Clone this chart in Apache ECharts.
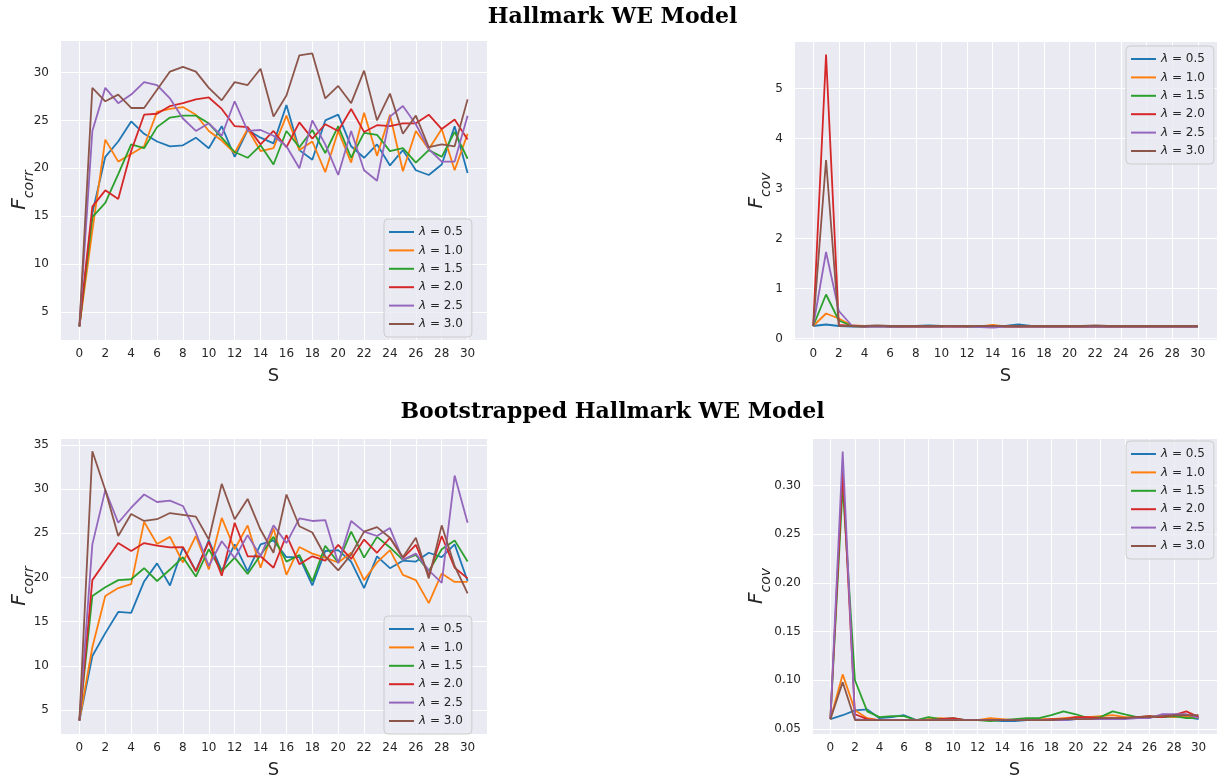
<!DOCTYPE html>
<html><head><meta charset="utf-8">
<script src="https://cdn.jsdelivr.net/npm/echarts@6/dist/echarts.min.js"></script>
<style>html,body{margin:0;padding:0;background:#fff}#c{width:1225px;height:780px}</style>
</head><body><div id="c"></div>
<script>
// ---------- data ----------
const S = [0,1,2,3,4,5,6,7,8,9,10,11,12,13,14,15,16,17,18,19,20,21,22,23,24,25,26,27,28,29,30];
const lambdas = ['0.5','1.0','1.5','2.0','2.5','3.0'];
const titles = ['Hallmark WE Model', 'Bootstrapped Hallmark WE Model'];
const xTitle = 'S';

// Hallmark WE Model, F_corr
const hCorr05 = [3.5,15.3,21.2,22.8,24.9,23.6,22.8,22.3,22.4,23.2,22.1,24.4,21.2,24.0,23.2,22.6,26.6,21.9,20.9,25.0,25.6,22.3,21.1,22.5,20.3,21.9,19.8,19.3,20.4,24.4,19.5];
const hCorr10 = [3.5,13.5,23.0,20.7,21.5,22.3,25.9,26.2,26.4,25.6,23.9,22.9,21.6,24.1,21.8,22.1,25.5,21.9,22.8,19.6,23.9,20.6,25.8,21.3,25.6,19.7,23.9,22.0,24.1,19.8,23.6];
const hCorr15 = [3.5,14.9,16.4,19.4,22.5,22.1,24.3,25.3,25.5,25.5,24.7,23.2,21.7,21.1,22.4,20.4,23.9,22.2,24.0,21.6,24.4,21.1,23.7,23.5,21.8,22.1,20.6,21.9,21.2,23.8,21.0];
const hCorr20 = [3.5,16.0,17.7,16.8,21.8,25.6,25.7,26.5,26.8,27.2,27.4,26.2,24.4,24.3,22.5,23.9,22.2,24.8,23.1,24.6,23.9,26.2,23.8,24.5,24.4,24.7,24.7,25.6,24.1,25.1,23.0];
const hCorr25 = [3.5,23.9,28.4,26.8,27.7,29.0,28.7,27.3,25.2,23.9,24.7,23.4,27.0,23.9,24.0,23.4,22.3,20.0,25.0,22.5,19.3,23.9,19.8,18.7,25.4,26.5,24.6,22.0,20.7,20.7,25.5];
const hCorr30 = [3.5,28.4,27.0,27.7,26.3,26.3,28.2,30.1,30.6,30.1,28.4,27.1,29.0,28.7,30.4,25.4,27.6,31.8,32.0,27.3,28.6,26.8,30.2,25.0,27.8,23.6,25.5,22.2,22.5,22.3,27.2];

// Hallmark WE Model, F_cov
const hCov05 = [0.25,0.28,0.25,0.24,0.24,0.25,0.24,0.24,0.25,0.26,0.25,0.25,0.24,0.24,0.25,0.25,0.28,0.25,0.24,0.24,0.24,0.24,0.25,0.24,0.24,0.24,0.24,0.24,0.24,0.24,0.24];
const hCov10 = [0.25,0.50,0.40,0.26,0.25,0.25,0.25,0.24,0.24,0.24,0.25,0.24,0.25,0.24,0.27,0.24,0.24,0.24,0.24,0.24,0.24,0.24,0.25,0.24,0.24,0.24,0.24,0.24,0.24,0.24,0.25];
const hCov15 = [0.25,0.88,0.36,0.25,0.24,0.25,0.24,0.24,0.24,0.24,0.24,0.25,0.24,0.24,0.24,0.24,0.24,0.24,0.24,0.24,0.24,0.24,0.24,0.24,0.24,0.24,0.24,0.24,0.24,0.24,0.24];
const hCov20 = [0.25,5.68,0.27,0.25,0.24,0.25,0.24,0.24,0.24,0.24,0.24,0.24,0.24,0.25,0.25,0.24,0.24,0.24,0.24,0.24,0.24,0.24,0.24,0.24,0.24,0.24,0.24,0.24,0.24,0.24,0.24];
const hCov25 = [0.25,1.73,0.55,0.26,0.24,0.24,0.24,0.24,0.24,0.24,0.24,0.24,0.24,0.23,0.22,0.24,0.24,0.24,0.24,0.24,0.24,0.24,0.24,0.24,0.24,0.24,0.24,0.24,0.24,0.24,0.24];
const hCov30 = [0.25,3.57,0.25,0.25,0.25,0.26,0.25,0.25,0.25,0.25,0.25,0.25,0.25,0.25,0.25,0.25,0.25,0.25,0.25,0.25,0.25,0.25,0.26,0.25,0.25,0.25,0.25,0.25,0.25,0.25,0.25];

// Bootstrapped Hallmark WE Model, F_corr
const bCorr05 = [3.8,11.1,13.7,16.1,16.0,19.55,21.6,19.1,23.4,20.75,24.2,20.75,23.75,20.7,23.75,24.2,22.3,22.3,19.1,23.0,23.1,21.8,18.8,22.4,21.05,21.9,21.8,22.8,22.3,23.75,19.6];
const bCorr10 = [3.8,12.1,17.9,18.8,19.25,26.3,23.8,24.6,21.7,24.7,20.9,26.75,23.2,25.9,21.1,25.55,20.3,23.45,22.7,22.25,21.7,22.8,19.7,21.7,23.1,20.3,19.7,17.1,20.45,19.5,19.5];
const bCorr15 = [3.8,17.9,18.9,19.7,19.8,21.05,19.6,20.9,22.3,20.1,23.2,20.7,22.25,20.4,22.55,24.6,21.8,22.55,19.55,23.6,21.7,25.2,22.25,24.6,23.4,22.0,22.55,20.7,23.2,24.2,21.8];
const bCorr20 = [3.8,19.7,21.8,23.9,23.0,23.9,23.6,23.4,23.45,20.7,24.05,20.2,26.2,22.4,22.4,21.1,24.8,21.5,22.4,21.9,23.7,22.1,24.3,22.8,24.5,22.2,23.7,20.2,24.7,21.1,19.9];
const bCorr25 = [3.8,23.75,29.9,26.2,27.9,29.4,28.55,28.7,28.1,25.1,21.3,24.1,22.2,24.8,22.4,25.9,23.9,26.7,26.4,26.5,21.6,26.4,25.2,24.7,25.6,22.0,22.7,20.8,19.4,31.55,26.2];
const bCorr30 = [3.8,34.3,29.9,24.7,27.2,26.4,26.6,27.3,27.1,26.9,24.3,30.6,26.6,28.9,25.4,22.8,29.4,25.8,25.1,22.4,20.8,22.6,25.2,25.7,24.5,22.3,24.5,19.9,25.9,21.3,18.2];

// Bootstrapped Hallmark WE Model, F_cov
const bCov05 = [0.060,0.064,0.069,0.070,0.061,0.062,0.064,0.059,0.059,0.059,0.060,0.059,0.059,0.059,0.058,0.058,0.059,0.059,0.059,0.059,0.060,0.060,0.060,0.060,0.061,0.062,0.062,0.062,0.063,0.062,0.060];
const bCov10 = [0.060,0.106,0.069,0.061,0.059,0.059,0.059,0.059,0.060,0.061,0.060,0.059,0.059,0.061,0.060,0.059,0.059,0.060,0.060,0.061,0.062,0.062,0.063,0.064,0.062,0.062,0.062,0.063,0.062,0.063,0.061];
const bCov15 = [0.060,0.300,0.100,0.068,0.062,0.063,0.063,0.059,0.062,0.060,0.061,0.059,0.059,0.058,0.059,0.060,0.061,0.061,0.064,0.068,0.065,0.061,0.062,0.068,0.065,0.062,0.063,0.062,0.063,0.061,0.061];
const bCov20 = [0.060,0.315,0.065,0.060,0.059,0.059,0.059,0.059,0.059,0.060,0.061,0.059,0.059,0.059,0.059,0.059,0.059,0.059,0.060,0.060,0.062,0.062,0.061,0.061,0.061,0.062,0.063,0.062,0.064,0.068,0.062];
const bCov25 = [0.060,0.335,0.060,0.059,0.059,0.059,0.059,0.059,0.059,0.059,0.059,0.059,0.059,0.059,0.059,0.059,0.059,0.059,0.059,0.059,0.060,0.060,0.060,0.060,0.060,0.061,0.061,0.065,0.065,0.065,0.061];
const bCov30 = [0.060,0.098,0.059,0.059,0.059,0.059,0.059,0.059,0.059,0.059,0.059,0.059,0.059,0.059,0.059,0.059,0.059,0.059,0.059,0.060,0.060,0.060,0.061,0.061,0.061,0.062,0.062,0.063,0.064,0.064,0.064];

// ---------- assembly ----------
const panels = [
  [hCorr05,hCorr10,hCorr15,hCorr20,hCorr25,hCorr30],
  [hCov05,hCov10,hCov15,hCov20,hCov25,hCov30],
  [bCorr05,bCorr10,bCorr15,bCorr20,bCorr25,bCorr30],
  [bCov05,bCov10,bCov15,bCov20,bCov25,bCov30]
];
const yNames = ['{f|F}{s|corr}','{f|F}{s|cov}','{f|F}{s|corr}','{f|F}{s|cov}'];
const palette = ['#1f77b4','#ff7f0e','#2ca02c','#d62728','#9467bd','#8c564b'];
const names = lambdas.map(l => 'λ = ' + l);

const FONT = 'DejaVu Sans';
const TXT = '#262626';
const grids = [
  {left:60, top:40, width:427, height:300},
  {left:794, top:41, width:423, height:299},
  {left:60, top:438, width:427, height:298},
  {left:812, top:438, width:405, height:298}
];
const yCfg = [
  {min:2.07, max:33.4, iv:5, dec:0, gap:28},
  {min:-0.03, max:5.95, iv:1, dec:0, gap:25},
  {min:2.27, max:35.8, iv:5, dec:0, gap:28},
  {min:0.0447, max:0.349, iv:0.05, dec:2, gap:43}
];
const legendPos = [
  {left:384, top:219},
  {left:1126, top:46},
  {left:384, top:616},
  {left:1126, top:441}
];

const option = {
  animation: false,
  backgroundColor: '#ffffff',
  title: [
    {text: titles[0], left: 'center', top: 1, textStyle: {fontFamily: 'DejaVu Serif', fontWeight: 'bold', fontSize: 22, color: '#000'}},
    {text: titles[1], left: 'center', top: 396, textStyle: {fontFamily: 'DejaVu Serif', fontWeight: 'bold', fontSize: 22, color: '#000'}}
  ],
  grid: grids.map(g => Object.assign({show: true, backgroundColor: '#EAEAF2', borderWidth: 0}, g)),
  xAxis: grids.map((g, i) => ({
    type: 'value', gridIndex: i, min: -1.5, max: 31.5,
    minInterval: 2, maxInterval: 2, splitNumber: 16,
    axisLine: {show: false}, axisTick: {show: false},
    axisLabel: {showMinLabel: false, showMaxLabel: false, fontFamily: FONT, fontSize: 12, color: TXT, margin: 8},
    splitLine: {show: true, lineStyle: {color: '#ffffff', width: 1}},
    name: xTitle, nameLocation: 'middle', nameGap: 27, nameMoveOverlap: false,
    nameTextStyle: {fontFamily: FONT, fontSize: 18, color: TXT}
  })),
  yAxis: grids.map((g, i) => ({
    type: 'value', gridIndex: i, min: yCfg[i].min, max: yCfg[i].max,
    minInterval: yCfg[i].iv, maxInterval: yCfg[i].iv, splitNumber: 6,
    axisLine: {show: false}, axisTick: {show: false},
    axisLabel: {showMinLabel: false, showMaxLabel: false, fontFamily: FONT, fontSize: 12, color: TXT, margin: 11,
      formatter: v => v.toFixed(yCfg[i].dec)},
    splitLine: {show: true, lineStyle: {color: '#ffffff', width: 1}},
    name: yNames[i], nameLocation: 'middle', nameRotate: 90, nameGap: yCfg[i].gap, nameMoveOverlap: false,
    nameTextStyle: {
      rich: {
        f: {fontFamily: FONT, fontStyle: 'italic', fontSize: 20, color: TXT, lineHeight: 22, verticalAlign: 'top'},
        s: {fontFamily: FONT, fontStyle: 'italic', fontSize: 14, color: TXT, lineHeight: 14, padding: [12,0,0,0], verticalAlign: 'top'}
      }
    }
  })),
  legend: legendPos.map(p => ({
    data: names, orient: 'vertical', left: p.left, top: p.top,
    icon: 'rect', itemWidth: 25, itemHeight: 2, itemGap: 4.4,
    padding: [6, 9, 6, 5],
    backgroundColor: 'rgba(234,234,242,0.8)', borderColor: '#cccccc', borderWidth: 1, borderRadius: 4,
    selectedMode: false,
    formatter: n => n.replace('λ', '{i|λ}'),
    textStyle: {fontFamily: FONT, fontSize: 12, color: TXT, lineHeight: 14,
      rich: {i: {fontFamily: FONT, fontStyle: 'italic', fontSize: 12, color: TXT, lineHeight: 14}}}
  })),
  series: []
};

panels.forEach((p, gi) => {
  p.forEach((arr, si) => {
    option.series.push({
      type: 'line', name: names[si], xAxisIndex: gi, yAxisIndex: gi,
      data: S.map((s, k) => [s, arr[k]]),
      symbol: 'none', showSymbol: false,
      lineStyle: {color: palette[si], width: 1.8},
      itemStyle: {color: palette[si]},
      z: 2 + si
    });
  });
});

const chart = echarts.init(document.getElementById('c'), null, {renderer: 'canvas'});
chart.setOption(option);
</script></body></html>
